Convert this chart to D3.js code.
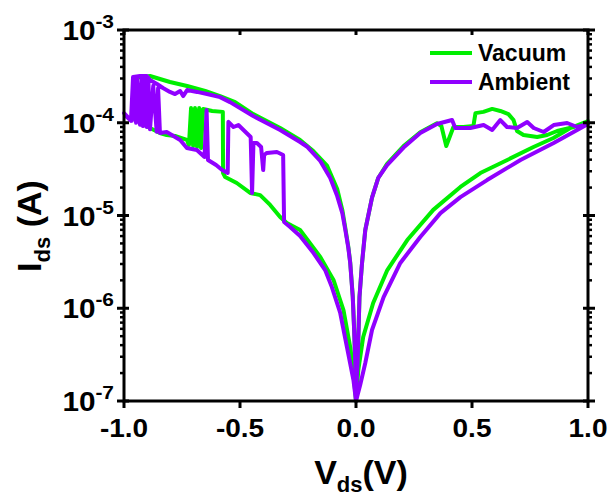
<!DOCTYPE html>
<html>
<head>
<meta charset="UTF-8">
<script src="https://d3js.org/d3.v7.min.js"></script>
<style>
  body { margin: 0; background: #fff; }
  text { font-family: "Liberation Sans", Arial, sans-serif; font-weight: bold; fill: #000; }
</style>
</head>
<body>
<svg width="611" height="497"></svg>
<script>
// Vacuum (green) sweep: 0 -> +1 -> 0 -> -1 -> 0
const vacuumV = [0.000, 0.003, 0.007, 0.015, 0.026, 0.040, 0.069, 0.096, 0.134, 0.205, 0.277, 0.349,
  0.368, 0.389, 0.420, 0.463, 0.506, 0.515, 0.549, 0.587, 0.622, 0.657, 0.679, 0.694, 0.722, 0.781, 0.824, 0.867, 0.939, 1.000,
  0.924, 0.851, 0.765, 0.652, 0.536, 0.450, 0.333, 0.221, 0.135, 0.074, 0.031, 0.010, 0.000,
  -0.010, -0.025, -0.054, -0.097, -0.154, -0.241, -0.298, -0.327, -0.370, -0.413, -0.456, -0.514, -0.564, -0.573,
  -0.574, -0.620, -0.659, -0.668, -0.676, -0.685, -0.694, -0.702, -0.711, -0.720, -0.729, -0.780, -0.816, -0.845,
  -0.888, -0.931, -0.953,
  -0.953, -0.888, -0.802, -0.728, -0.650, -0.586, -0.521, -0.443, -0.327, -0.241, -0.184, -0.125, -0.081, -0.059,
  -0.046, -0.033, -0.025, -0.014, -0.008, -0.003, 0.000];
const vacuumI = [1.0e-7, 1.68e-7, 2.57e-7, 1.32e-6, 3.08e-6, 6.98e-6, 1.56e-5, 2.54e-5, 3.6e-5, 5.6e-5, 7.9e-5, 9.9e-5,
  9.23e-5, 5.62e-5, 9.0e-5, 9.0e-5, 9.23e-5, 1.27e-4, 1.31e-4, 1.41e-4, 1.34e-4, 1.24e-4, 1.07e-4, 8.15e-5, 7.38e-5, 7.02e-5, 7.38e-5, 8.15e-5, 9.0e-5, 1.04e-4,
  8.78e-5, 6.85e-5, 5.48e-5, 3.97e-5, 2.87e-5, 2.03e-5, 1.15e-5, 5.44e-6, 2.58e-6, 1.14e-6, 4.9e-7, 2.16e-7, 1.0e-7,
  1.91e-7, 3.82e-7, 9.57e-7, 2.02e-6, 3.57e-6, 6.98e-6, 8.3e-6, 9.63e-6, 1.3e-5, 1.66e-5, 1.75e-5, 2.24e-5, 2.6e-5, 2.87e-5,
  1.31e-4, 1.34e-4, 1.41e-4, 5.34e-5, 1.44e-4, 5.48e-5, 1.44e-4, 5.62e-5, 1.44e-4, 5.76e-5, 6.52e-5, 7.2e-5, 7.38e-5, 7.76e-5,
  8.78e-5, 1.02e-4, 1.12e-4,
  3.04e-4, 3.19e-4, 2.75e-4, 2.49e-4, 2.2e-4, 1.94e-4, 1.67e-4, 1.24e-4, 8.78e-5, 6.52e-5, 4.96e-5, 3.45e-5, 1.93e-5, 1.15e-5,
  7.33e-6, 4.57e-6, 3.15e-6, 1.36e-6, 5.83e-7, 2.57e-7, 1.0e-7];

// Ambient (purple) sweep: 0 -> +1 -> 0 -> -1 -> 0
const ambientV = [0.000, 0.003, 0.007, 0.015, 0.026, 0.040, 0.069, 0.096, 0.134, 0.205, 0.277, 0.349, 0.414,
  0.428, 0.493, 0.550, 0.587, 0.622, 0.651, 0.694, 0.738, 0.766, 0.809, 0.852, 0.910, 0.953, 1.000,
  0.852, 0.709, 0.565, 0.450, 0.364, 0.277, 0.191, 0.119, 0.069, 0.040, 0.018, 0.000,
  -0.011, -0.039, -0.068, -0.104, -0.133, -0.183, -0.241, -0.284, -0.310,
  -0.314, -0.341, -0.384, -0.396, -0.400, -0.409, -0.427, -0.442, -0.448, -0.454, -0.485, -0.507, -0.528, -0.550,
  -0.553, -0.577, -0.603, -0.638, -0.644, -0.653, -0.686, -0.729, -0.758, -0.816, -0.845,
  -0.853, -0.859, -0.874, -0.888, -0.895, -0.902, -0.909, -0.918, -0.924, -0.931, -0.944, -0.948, -0.961, -0.966, -0.983, -1.000, -0.987, -0.970,
  -0.961, -0.931, -0.902, -0.888, -0.858, -0.832, -0.802, -0.780, -0.758, -0.745, -0.728, -0.685, -0.642, -0.586, -0.543,
  -0.443, -0.327, -0.241, -0.212, -0.154, -0.111, -0.081, -0.059, -0.046, -0.033, -0.025, -0.014, -0.008, -0.003, 0.000];
const ambientI = [1.0e-7, 1.68e-7, 2.57e-7, 1.32e-6, 3.08e-6, 6.98e-6, 1.56e-5, 2.54e-5, 3.5e-5, 5.4e-5, 7.76e-5, 9.69e-5, 1.07e-4,
  8.78e-5, 8.78e-5, 9.45e-5, 8.35e-5, 1.07e-4, 9.0e-5, 8.78e-5, 1.02e-4, 8.78e-5, 7.95e-5, 9.45e-5, 9.94e-5, 9.0e-5, 9.69e-5,
  6.05e-5, 3.97e-5, 2.41e-5, 1.58e-5, 1.06e-5, 5.87e-6, 3.08e-6, 1.32e-6, 5.83e-7, 2.57e-7, 1.49e-7, 1.0e-7,
  1.68e-7, 3.82e-7, 8.89e-7, 1.69e-6, 2.58e-6, 3.94e-6, 6.01e-6, 7.52e-6, 8.51e-6,
  4.49e-5, 4.84e-5, 4.72e-5, 4.49e-5, 3.09e-5, 5.48e-5, 6.05e-5, 6.05e-5, 1.75e-5, 7.02e-5, 8.35e-5, 9.45e-5, 9.0e-5, 1.02e-4,
  2.87e-5, 3.09e-5, 3.5e-5, 3.97e-5, 1.37e-4, 4.27e-5, 5.08e-5, 5.34e-5, 6.52e-5, 7.95e-5, 7.76e-5,
  2.37e-4, 8.0e-5, 2.5e-4, 8.5e-5, 2.9e-4, 9.0e-5, 3.1e-4, 9.2e-5, 3.1e-4, 9.5e-5, 3.1e-4, 1.0e-4, 3.1e-4, 1.05e-4, 1.15e-4, 1.27e-4, 1.15e-4, 1.05e-4,
  3.11e-4, 3.19e-4, 3.19e-4, 2.89e-4, 2.62e-4, 2.37e-4, 2.15e-4, 2.04e-4, 2.2e-4, 1.94e-4, 2.25e-4, 2.15e-4, 2.04e-4, 1.89e-4, 1.67e-4,
  1.18e-4, 8.35e-5, 6.2e-5, 5.55e-5, 3.87e-5, 2.54e-5, 1.62e-5, 1.06e-5, 6.98e-6, 4.46e-6, 3.08e-6, 1.32e-6, 5.83e-7, 2.57e-7, 1.0e-7];

const xTicks = [-1.0, -0.5, 0.0, 0.5, 1.0];
const yDecades = [-7, -6, -5, -4, -3];
const seriesNames = ["Vacuum", "Ambient"];
const seriesColors = ["#00ee00", "#9000ff"];

const svg = d3.select("svg");
const mLeft = 124, mRight = 588, mTop = 30, mBottom = 401;

const x = d3.scaleLinear().domain([-1, 1]).range([mLeft, mRight]);
const y = d3.scaleLog().domain([1e-7, 1e-3]).range([mBottom, mTop]);

const line = d3.line()
  .x(d => x(d[0]))
  .y(d => y(d[1]));

const series = [
  d3.zip(vacuumV, vacuumI),
  d3.zip(ambientV, ambientI)
];

// data lines
const plot = svg.append("g");
series.forEach((pts, i) => {
  plot.append("path")
    .datum(pts)
    .attr("fill", "none")
    .attr("stroke", seriesColors[i])
    .attr("stroke-width", 4)
    .attr("stroke-linejoin", "round")
    .attr("d", line);
});

// frame
svg.append("rect")
  .attr("x", mLeft).attr("y", mTop)
  .attr("width", mRight - mLeft).attr("height", mBottom - mTop)
  .attr("fill", "none").attr("stroke", "#000").attr("stroke-width", 3);

// minor log ticks
const minor = [];
yDecades.slice(0, -1).forEach(d => {
  for (let k = 2; k <= 9; k++) minor.push(k * Math.pow(10, d));
});
const ax = svg.append("g").attr("stroke", "#000");
minor.forEach(v => {
  ax.append("line").attr("x1", mLeft - 4).attr("x2", mLeft).attr("y1", y(v)).attr("y2", y(v)).attr("stroke-width", 2.5);
  ax.append("line").attr("x1", mRight).attr("x2", mRight + 4).attr("y1", y(v)).attr("y2", y(v)).attr("stroke-width", 2.5);
});
yDecades.forEach(d => {
  const v = Math.pow(10, d);
  ax.append("line").attr("x1", mLeft - 7).attr("x2", mLeft + 5).attr("y1", y(v)).attr("y2", y(v)).attr("stroke-width", 3);
  ax.append("line").attr("x1", mRight - 5).attr("x2", mRight + 7).attr("y1", y(v)).attr("y2", y(v)).attr("stroke-width", 3);
});
xTicks.forEach(t => {
  ax.append("line").attr("x1", x(t)).attr("x2", x(t)).attr("y1", mBottom).attr("y2", mBottom + 7).attr("stroke-width", 3);
  ax.append("line").attr("x1", x(t)).attr("x2", x(t)).attr("y1", mTop).attr("y2", mTop + 5).attr("stroke-width", 3);
});

// x tick labels (slightly wide lettering, as in the original export)
xTicks.forEach(t => {
  svg.append("text")
    .attr("transform", `translate(${x(t)},437) scale(1.12,1)`)
    .attr("text-anchor", "middle")
    .attr("font-size", 25)
    .text(t.toFixed(1));
});

// y tick labels
yDecades.forEach(d => {
  const t = svg.append("text")
    .attr("transform", `translate(114,${y(Math.pow(10, d)) + 10}) scale(1.1,1)`)
    .attr("text-anchor", "end")
    .attr("font-size", 27);
  t.append("tspan").text("10");
  t.append("tspan").attr("font-size", 19).attr("dy", -12).text(d);
});

// axis titles
const xt = svg.append("text").attr("x", 361).attr("y", 484).attr("text-anchor", "middle").attr("font-size", 34);
xt.append("tspan").text("V");
xt.append("tspan").attr("font-size", 22).attr("dy", 8).text("ds");
xt.append("tspan").attr("dy", -8).text("(V)");

const yt = svg.append("text").attr("transform", "translate(41,226) rotate(-90)").attr("text-anchor", "middle").attr("font-size", 34);
yt.append("tspan").text("I");
yt.append("tspan").attr("font-size", 22).attr("dy", 9).text("ds");
yt.append("tspan").attr("dy", -9).text(" (A)");

// legend
seriesNames.forEach((name, i) => {
  const ly = 53 + i * 29;
  svg.append("line").attr("x1", 430).attr("x2", 472).attr("y1", ly).attr("y2", ly)
    .attr("stroke", seriesColors[i]).attr("stroke-width", 4);
  svg.append("text").attr("x", 478).attr("y", ly + 8).attr("font-size", 23).text(name);
});
</script>
</body>
</html>
